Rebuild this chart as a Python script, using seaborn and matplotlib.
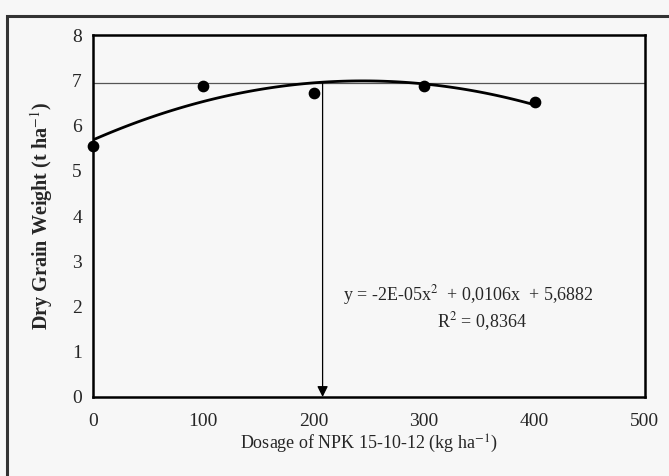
import numpy as np
import pandas as pd
import seaborn as sns
import matplotlib.pyplot as plt
from matplotlib.patches import Rectangle

sns.set_style("white")
plt.rcParams['font.family'] = ['Liberation Serif', 'DejaVu Serif']
plt.rcParams['mathtext.fontset'] = 'stix'

# data
dosage = [0, 100, 200, 300, 400]
weight = [5.55, 6.88, 6.72, 6.88, 6.52]
opt_dose = 208
opt_weight = 6.94
eq_text = "y = -2E-05x$^2$  + 0,0106x  + 5,6882"
r2_text = "R$^2$ = 0,8364"

df = pd.DataFrame({"dose": dosage, "weight": weight})

bg = "#f7f7f7"
fig = plt.figure(figsize=(6.69, 4.76), dpi=100, facecolor=bg)
ax = fig.add_axes([0.139, 0.166, 0.825, 0.76])
ax.set_facecolor(bg)

sns.regplot(x="dose", y="weight", data=df, order=2, ci=None, ax=ax,
            scatter_kws={"s": 55, "color": "black", "alpha": 1,
                         "zorder": 3, "clip_on": False},
            line_kws={"color": "black", "lw": 2})

# optimum lines
ax.axhline(opt_weight, color="#555555", lw=0.9, zorder=1)
ax.annotate("", xy=(opt_dose, 0), xytext=(opt_dose, opt_weight),
            arrowprops=dict(arrowstyle="-|>", color="black", lw=0.9,
                            mutation_scale=16, shrinkA=0, shrinkB=0))

ax.text(340, 2.25, eq_text, ha="center", va="center", fontsize=13)
ax.text(352, 1.66, r2_text, ha="center", va="center", fontsize=13)

ax.set_xlim(0, 500)
ax.set_ylim(0, 8)
ax.set_xticks(range(0, 501, 100))
ax.set_yticks(range(0, 9))
ax.tick_params(axis="both", labelsize=14, length=4, color="#888888",
               direction="out", pad=4)
ax.tick_params(axis="x", direction="inout", length=7, pad=8)
for s in ax.spines.values():
    s.set_color("black")
    s.set_linewidth(1.8)

ax.set_xlabel("Dosage of NPK 15-10-12 (kg ha$^{-1}$)", fontsize=13, labelpad=2)
ax.set_ylabel("Dry Grain Weight (t ha$^{-1}$)", fontsize=14.5, fontweight="bold",
              labelpad=12)

# outer frame
fig.patches.append(Rectangle((0.011, -0.02), 1.0, 0.987, transform=fig.transFigure,
                             fill=False, edgecolor="#333333", lw=2.2))

fig.savefig("out.png", dpi=100, facecolor=bg)
